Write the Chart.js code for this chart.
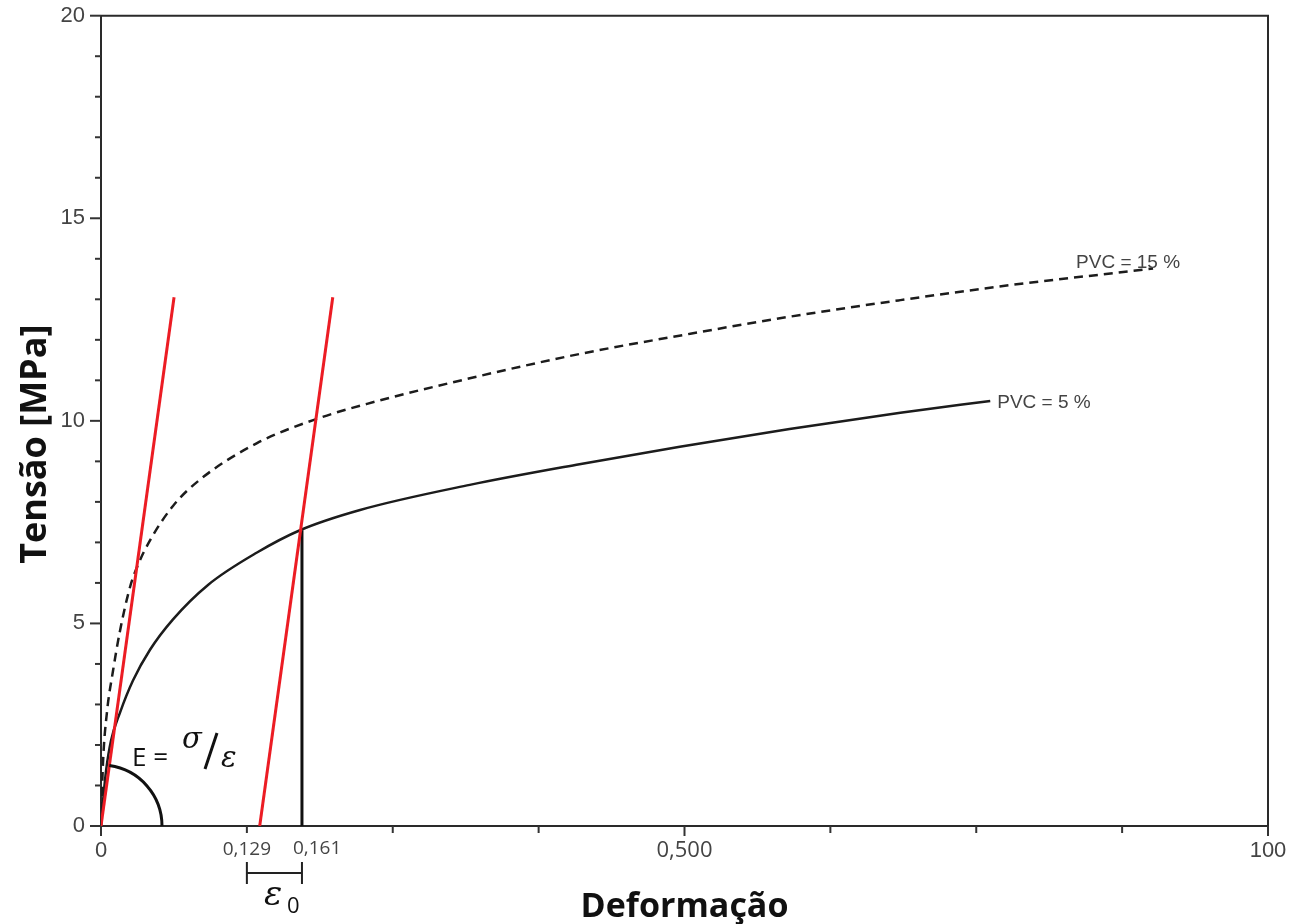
<!DOCTYPE html>
<html><head><meta charset="utf-8">
<script src="https://cdn.jsdelivr.net/npm/chart.js@4.4.0/dist/chart.umd.min.js"></script>
<style>html,body{margin:0;padding:0;background:#fff;}canvas{display:block;}</style>
</head><body>
<canvas id="c" width="1305" height="924"></canvas>
<script>
// ---- data ----
const strainPVC5  = [0, 0.002, 0.0045, 0.0085, 0.0163, 0.0274, 0.042, 0.0617, 0.0917, 0.1337, 0.1705, 0.222, 0.316, 0.410, 0.496, 0.590, 0.685, 0.762];
const stressPVC5  = [0, 0.7, 1.4, 2.1, 2.8, 3.59, 4.35, 5.1, 5.95, 6.75, 7.3, 7.8, 8.42, 8.93, 9.36, 9.8, 10.2, 10.49];
const strainPVC15 = [0, 0.0017, 0.005, 0.0103, 0.0163, 0.0249, 0.031, 0.042, 0.0617, 0.0848, 0.1337, 0.185, 0.228, 0.316, 0.410, 0.505, 0.590, 0.685, 0.779, 0.884, 0.9015];
const stressPVC15 = [0, 1.55, 2.78, 3.83, 4.82, 5.9, 6.4, 7.05, 7.9, 8.55, 9.45, 10.05, 10.42, 11.05, 11.65, 12.15, 12.57, 12.98, 13.35, 13.7, 13.76];
const tangentStrain = [0, 0.0626];
const tangentStress = [0, 13.05];
const offsetStrain  = [0.136, 0.1986];
const offsetStress  = [0, 13.05];
const yieldStrain   = [0.1722, 0.1722];
const yieldStress   = [0, 7.3];
const xTickValues = [0, 0.125, 0.5, 1];
const xTickLabels = ['0', '0,129', '0,500', '100'];
const yTickValues = [0, 5, 10, 15, 20];
const yTickLabels = ['0', '5', '10', '15', '20'];
const seriesLabels = ['PVC = 5 %', 'PVC = 15 %'];
const yieldStrainLabel = '0,161';
const xTitle = 'Deformação';
const yTitle = 'Tensão [MPa]';

const pts = (xs, ys) => xs.map((v, i) => ({x: v, y: ys[i]}));
const RED = '#ec1c24';
const INK = '#1c1c1c';

const annot = {
  id: 'annot',
  afterDraw(chart) {
    const {ctx, chartArea: a, scales: {x, y}} = chart;
    ctx.save();
    // top and right frame
    ctx.strokeStyle = '#2a2a2a'; ctx.lineWidth = 2;
    ctx.beginPath(); ctx.moveTo(a.left, a.top); ctx.lineTo(a.right, a.top); ctx.lineTo(a.right, a.bottom); ctx.stroke();
    // tick marks
    ctx.strokeStyle = '#333'; ctx.lineWidth = 2;
    x.ticks.forEach(t => {
      const px = x.getPixelForValue(t.value);
      const len = (Math.abs(t.value % 0.5) < 1e-9) ? 10 : 7;
      ctx.beginPath(); ctx.moveTo(px, a.bottom); ctx.lineTo(px, a.bottom + len); ctx.stroke();
    });
    y.ticks.forEach(t => {
      const py = y.getPixelForValue(t.value);
      const len = (t.value % 5 === 0) ? 11 : 6;
      ctx.beginPath(); ctx.moveTo(a.left - len, py); ctx.lineTo(a.left, py); ctx.stroke();
    });
    const ox = x.getPixelForValue(0), oy = y.getPixelForValue(0);
    // angle arc for E
    const ang = Math.atan2(oy - y.getPixelForValue(tangentStress[1]), x.getPixelForValue(tangentStrain[1]) - ox);
    ctx.strokeStyle = '#111'; ctx.lineWidth = 3;
    ctx.beginPath(); ctx.arc(ox, oy, 61, -ang, 0); ctx.stroke();
    // E = sigma / epsilon
    ctx.fillStyle = '#111'; ctx.textBaseline = 'alphabetic'; ctx.textAlign = 'left';
    ctx.font = '26px "Open Sans"';
    ctx.fillText('E =', ox + 31, oy - 60);
    ctx.font = 'italic 29px "DejaVu Serif"';
    ctx.fillText('σ', ox + 81, oy - 78);
    ctx.fillText('ε', ox + 120, oy - 59);
    ctx.lineWidth = 3;
    ctx.beginPath(); ctx.moveTo(ox + 104, oy - 57); ctx.lineTo(ox + 116, oy - 93); ctx.stroke();
    // series labels
    ctx.fillStyle = '#444'; ctx.font = '19px "Liberation Sans"'; ctx.textBaseline = 'middle';
    const e5x = x.getPixelForValue(strainPVC5[strainPVC5.length - 1]);
    const e5y = y.getPixelForValue(stressPVC5[stressPVC5.length - 1]);
    ctx.fillText(seriesLabels[0], e5x + 7, e5y + 2);
    const e15x = x.getPixelForValue(strainPVC15[strainPVC15.length - 1]);
    const e15y = y.getPixelForValue(stressPVC15[stressPVC15.length - 1]);
    ctx.fillText(seriesLabels[1], e15x - 77, e15y - 6);
    // strain labels and epsilon_0 bracket
    const b0 = x.getPixelForValue(xTickValues[1]);
    const b1 = x.getPixelForValue(yieldStrain[0]);
    ctx.fillStyle = '#444'; ctx.font = '19px "Open Sans"'; ctx.textBaseline = 'top';
    ctx.fillText(yieldStrainLabel, b1 - 9, a.bottom + 13);
    ctx.strokeStyle = '#222'; ctx.lineWidth = 2;
    ctx.beginPath();
    ctx.moveTo(b0, a.bottom + 36); ctx.lineTo(b0, a.bottom + 58);
    ctx.moveTo(b1, a.bottom + 36); ctx.lineTo(b1, a.bottom + 58);
    ctx.moveTo(b0, a.bottom + 47); ctx.lineTo(b1, a.bottom + 47);
    ctx.stroke();
    ctx.fillStyle = '#111'; ctx.textBaseline = 'alphabetic';
    ctx.font = 'italic 34px "DejaVu Serif"';
    ctx.fillText('ε', b0 + 17, a.bottom + 79);
    ctx.font = '22px "Open Sans"';
    ctx.fillText('0', b0 + 40, a.bottom + 87);
    ctx.restore();
  }
};

new Chart(document.getElementById('c'), {
  type: 'scatter',
  data: {
    datasets: [
      {label: 'tangente', data: pts(tangentStrain, tangentStress), showLine: true, borderColor: RED, borderWidth: 3, pointRadius: 0, order: 0},
      {label: 'paralela', data: pts(offsetStrain, offsetStress), showLine: true, borderColor: RED, borderWidth: 3, pointRadius: 0, order: 0},
      {label: 'ε0', data: pts(yieldStrain, yieldStress), showLine: true, borderColor: '#111', borderWidth: 3, pointRadius: 0, order: 1},
      {label: seriesLabels[0], data: pts(strainPVC5, stressPVC5), showLine: true, borderColor: INK, borderWidth: 2.5, pointRadius: 0, cubicInterpolationMode: 'monotone', order: 2},
      {label: seriesLabels[1], data: pts(strainPVC15, stressPVC15), showLine: true, borderColor: INK, borderWidth: 2.5, borderDash: [9, 6], pointRadius: 0, cubicInterpolationMode: 'monotone', order: 2}
    ]
  },
  options: {
    responsive: false, animation: false,
    layout: {padding: {left: 0, right: 37, top: 15.7, bottom: 0}},
    plugins: {legend: {display: false}, tooltip: {enabled: false}},
    scales: {
      x: {
        type: 'linear', min: 0, max: 1,
        grid: {display: false},
        border: {display: true, color: '#2a2a2a', width: 2},
        afterFit(s) { s.height = 98; s.paddingLeft = 0; s.paddingRight = 0; },
        afterBuildTicks(s) { s.ticks = [0, 0.125, 0.25, 0.375, 0.5, 0.625, 0.75, 0.875, 1].map(v => ({value: v})); },
        ticks: {
          autoSkip: false, maxRotation: 0, padding: 4, color: '#444',
          font: (c) => (c.tick && (c.tick.value === 0 || c.tick.value === 1)) ? {family: 'Liberation Sans', size: 22} : (c.tick && c.tick.value === 0.5 ? {family: 'Open Sans', size: 22} : {family: 'Open Sans', size: 19}),
          callback: (v) => { const i = xTickValues.indexOf(v); return i >= 0 ? xTickLabels[i] : ''; }
        },
        title: {display: true, text: xTitle, color: '#111', font: {family: 'Open Sans', size: 34, weight: 'bold', lineHeight: 1.0}, padding: {top: 0, bottom: 0}}
      },
      y: {
        type: 'linear', min: 0, max: 20,
        grid: {display: false},
        border: {display: true, color: '#2a2a2a', width: 2},
        afterFit(s) { s.width = 101; s.paddingTop = 0; s.paddingBottom = 0; },
        ticks: {
          stepSize: 1, autoSkip: false, padding: 8, color: '#444',
          font: {family: 'Liberation Sans', size: 22},
          callback: (v) => { const i = yTickValues.indexOf(v); return i >= 0 ? yTickLabels[i] : ''; }
        },
        title: {display: true, text: yTitle + '     ', color: '#111', font: {family: 'Open Sans', size: 36, weight: 'bold'}, padding: {top: 14, bottom: 0}}
      }
    }
  },
  plugins: [annot]
});
</script>
</body></html>
